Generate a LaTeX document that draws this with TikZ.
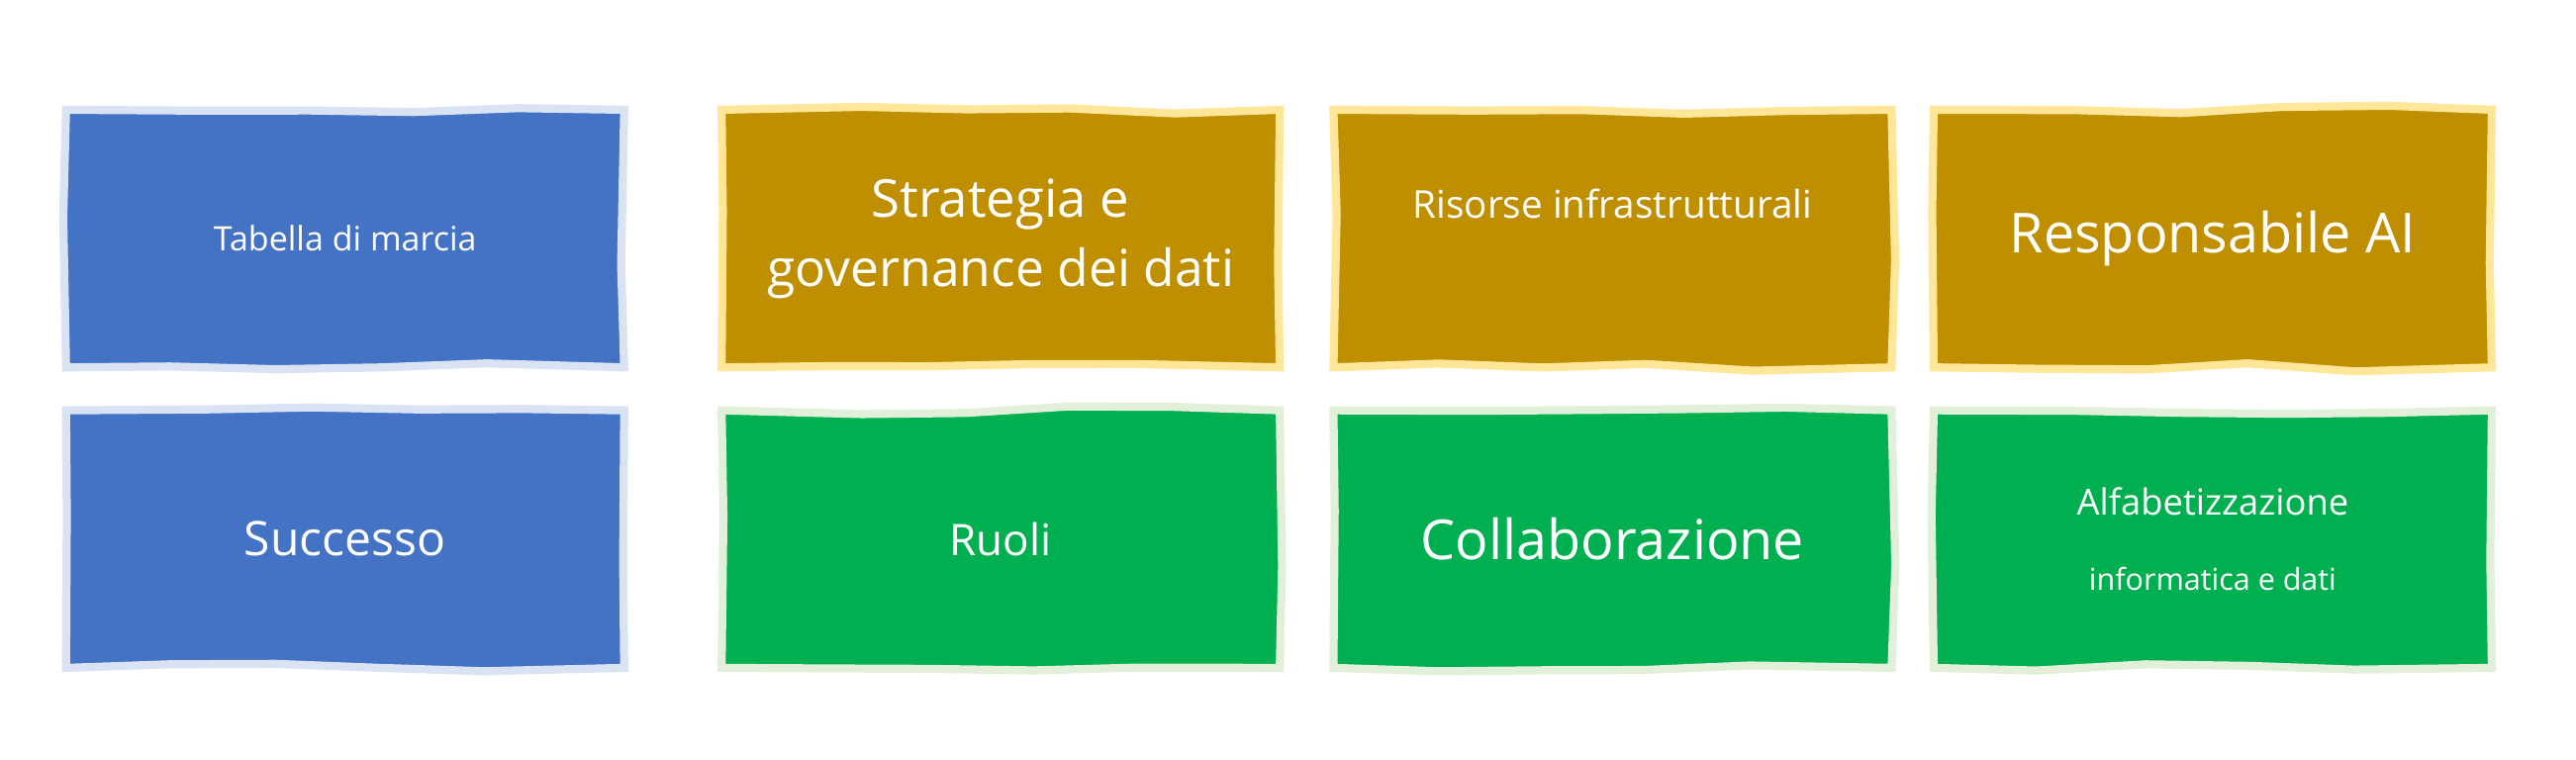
\documentclass[tikz,border=0pt]{standalone}
\usepackage{fontspec}
\setmainfont{Open Sans}
\usetikzlibrary{decorations.pathmorphing}
\definecolor{cblue}{HTML}{4472C4}\definecolor{lblue}{HTML}{DAE3F3}
\definecolor{cgold}{HTML}{BF8F00}\definecolor{lgold}{HTML}{FFE699}
\definecolor{cgreen}{HTML}{00B050}\definecolor{lgreen}{HTML}{E2F0D9}
\tikzset{
 card/.style={minimum width=3.38cm,minimum height=1.56cm,inner sep=0pt,text=white,align=center,
   line width=1.4pt,decorate,decoration={random steps,segment length=18pt,amplitude=0.7pt}},
 bluecard/.style={card,fill=cblue,draw=lblue},
 goldcard/.style={card,fill=cgold,draw=lgold},
 greencard/.style={card,fill=cgreen,draw=lgreen}}
\begin{document}
\begin{tikzpicture}
\useasboundingbox (0,0) rectangle (15.6,4.6);
\pgfmathsetseed{7}
\node[bluecard] (a) at (2.09,3.155) {\fontsize{5.8}{7}\selectfont Tabella di marcia};
\node[goldcard] (b) at (6.06,3.155) {\fontsize{9}{11.5}\selectfont Strategia e\\\fontsize{8.8}{11.5}\selectfont governance dei dati};
\node[goldcard] (c) at (9.765,3.155) {\fontsize{6.6}{8}\selectfont Risorse infrastrutturali\\[0pt]\mbox{}};
\node[goldcard] (d) at (13.40,3.155) {\fontsize{9.5}{12}\selectfont Responsabile AI};
\node[bluecard] (e) at (2.09,1.335) {\fontsize{8.2}{10}\selectfont Successo};
\node[greencard] (f) at (6.06,1.335) {\fontsize{7.5}{10}\selectfont Ruoli};
\node[greencard] (g) at (9.765,1.335) {\fontsize{9.5}{12}\selectfont Collaborazione};
\node[greencard] (h) at (13.40,1.335) {\fontsize{6.2}{8}\selectfont Alfabetizzazione\\[1pt]\fontsize{5.2}{6}\selectfont informatica e dati};
\end{tikzpicture}
\end{document}
